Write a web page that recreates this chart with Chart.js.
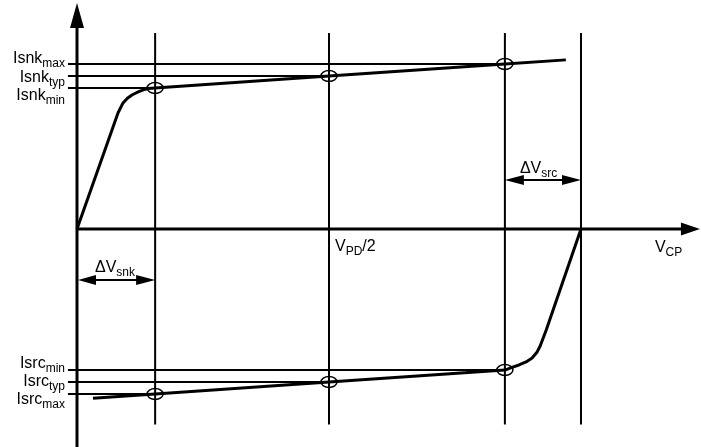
<!DOCTYPE html>
<html>
<head>
<meta charset="utf-8">
<script src="https://cdn.jsdelivr.net/npm/chart.js@4.4.0/dist/chart.umd.min.js"></script>
<style>
  body { margin: 0; background: #fff; }
  #wrap { width: 701px; height: 447px; }
</style>
</head>
<body>
<div id="wrap"><canvas id="cpChart" width="701" height="447"></canvas></div>
<script>
// Voltage axis runs 0 .. VPD (= 1), current is normalised so Isnk_max = 1
const markV = [0.155, 0.5, 0.849];            // dVsnk, VPD/2, VPD - dVsrc
const guideV = [0.155, 0.5, 0.849, 1.0];      // vertical guide lines
const guideSpan = [-1.185, 1.188];

const sinkNames = ["max", "typ", "min"];
const sinkLevels = [1.0, 0.927, 0.855];
const sinkEnds = [0.849, 0.5, 0.155];         // each level line stops at its marker

const srcNames = ["min", "typ", "max"];
const srcLevels = [-0.855, -0.927, -1.0];
const srcEnds = [0.849, 0.5, 0.155];

const levelStart = -0.018;

// sink current curve (upper) and source current curve (lower)
const sinkCurveX = [0, 0.0813, 0.0913, 0.100, 0.109, 0.118, 0.125, 0.133, 0.141, 0.155, 0.5, 0.849, 0.970];
const sinkCurveY = [0, 0.703, 0.764, 0.792, 0.812, 0.826, 0.836, 0.845, 0.851, 0.855, 0.927, 1.0, 1.025];
const srcCurveX = [0.0317, 0.155, 0.5, 0.849, 0.863, 0.877, 0.891, 0.903, 0.913, 0.919, 0.925, 0.931, 1.0];
const srcCurveY = [-1.026, -1.0, -0.927, -0.855, -0.839, -0.824, -0.806, -0.782, -0.745, -0.709, -0.661, -0.612, 0];

// markers on the curves
const sinkMarkY = [0.855, 0.927, 1.0];
const srcMarkY = [-1.0, -0.927, -0.855];

// delta V arrows
const dVsnkX = [0, 0.155];
const dVsnkY = -0.309;
const dVsrcX = [0.849, 1.0];
const dVsrcY = 0.297;

// axis extents
const yAxisEnds = [-1.33, 1.37];
const xAxisEnds = [0, 1.236];

const pts = (xs, ys) => xs.map((x, i) => ({ x: x, y: ys[i] }));
const lineSet = (data, width) => ({
  data: data,
  showLine: true,
  borderColor: "#000",
  borderWidth: width,
  pointRadius: 0,
  tension: 0,
  borderJoinStyle: "round",
  borderCapStyle: "butt",
});

const datasets = [];
// axes (stop short of the arrow tips)
datasets.push(lineSet([{ x: 0, y: yAxisEnds[0] }, { x: 0, y: yAxisEnds[1] - 0.13 }], 3));
datasets.push(lineSet([{ x: xAxisEnds[0], y: 0 }, { x: xAxisEnds[1] - 0.03, y: 0 }], 3));
// vertical guides
guideV.forEach((v) => {
  datasets.push(lineSet([{ x: v, y: guideSpan[0] }, { x: v, y: guideSpan[1] }], 2));
});
// level lines
sinkLevels.forEach((lv, i) => {
  datasets.push(lineSet([{ x: levelStart, y: lv }, { x: sinkEnds[i], y: lv }], 2));
});
srcLevels.forEach((lv, i) => {
  datasets.push(lineSet([{ x: levelStart, y: lv }, { x: srcEnds[i], y: lv }], 2));
});
// curves
datasets.push(lineSet(pts(sinkCurveX, sinkCurveY), 3));
datasets.push(lineSet(pts(srcCurveX, srcCurveY), 3));
// delta V arrow shafts
datasets.push(lineSet([{ x: dVsnkX[0] + 0.02, y: dVsnkY }, { x: dVsnkX[1] - 0.02, y: dVsnkY }], 2));
datasets.push(lineSet([{ x: dVsrcX[0] + 0.02, y: dVsrcY }, { x: dVsrcX[1] - 0.02, y: dVsrcY }], 2));

const BIG = "16px 'Liberation Sans', Arial, sans-serif";
const SMALL = "12px 'Liberation Sans', Arial, sans-serif";

// text with a subscript, returns the x where the text ends
function subText(ctx, main, sub, x, y, align) {
  ctx.font = BIG;
  const w1 = ctx.measureText(main).width;
  ctx.font = SMALL;
  const w2 = ctx.measureText(sub).width;
  const x0 = align === "right" ? x - w1 - w2 : x;
  ctx.textAlign = "left";
  ctx.textBaseline = "alphabetic";
  ctx.font = BIG;
  ctx.fillText(main, x0, y);
  ctx.font = SMALL;
  ctx.fillText(sub, x0 + w1, y + 4);
  return x0 + w1 + w2;
}

function arrowHead(ctx, tx, ty, dx, dy, len, half) {
  const bx = tx - dx * len, by = ty - dy * len;
  ctx.beginPath();
  ctx.moveTo(tx, ty);
  ctx.lineTo(bx - dy * half, by + dx * half);
  ctx.lineTo(bx + dy * half, by - dx * half);
  ctx.closePath();
  ctx.fill();
}

const decorPlugin = {
  id: "decor",
  afterDatasetsDraw(chart) {
    const ctx = chart.ctx;
    const xs = chart.scales.x, ys = chart.scales.y;
    const px = (v) => xs.getPixelForValue(v);
    const py = (v) => ys.getPixelForValue(v);
    ctx.save();
    ctx.fillStyle = "#000";
    ctx.strokeStyle = "#000";

    // axis arrows
    arrowHead(ctx, px(0), py(yAxisEnds[1]), 0, -1, 25, 7);
    arrowHead(ctx, px(xAxisEnds[1]), py(0), 1, 0, 19, 6.5);

    // delta V arrows
    arrowHead(ctx, px(dVsnkX[0]) + 1, py(dVsnkY), -1, 0, 18, 5);
    arrowHead(ctx, px(dVsnkX[1]), py(dVsnkY), 1, 0, 19, 5);
    arrowHead(ctx, px(dVsrcX[0]), py(dVsrcY), -1, 0, 19, 5);
    arrowHead(ctx, px(dVsrcX[1]), py(dVsrcY), 1, 0, 19, 5);

    // markers
    ctx.lineWidth = 1.5;
    markV.forEach((v, i) => {
      [sinkMarkY[i], srcMarkY[i]].forEach((c) => {
        ctx.beginPath();
        ctx.ellipse(px(v), py(c), 8, 5.5, 0, 0, Math.PI * 2);
        ctx.stroke();
      });
    });

    // level labels
    const lx = px(0) - 12;
    sinkNames.forEach((n, i) => {
      subText(ctx, "Isnk", n, lx, py(sinkLevels[0]) - 0.7 + i * 18.3, "right");
    });
    srcNames.forEach((n, i) => {
      subText(ctx, "Isrc", n, lx, py(srcLevels[0]) - 1.7 + i * 17.9, "right");
    });

    // voltage labels
    subText(ctx, "\u0394V", "snk", px(dVsnkX[0]) + 18, py(dVsnkY) - 8, "left");
    subText(ctx, "\u0394V", "src", px(dVsrcX[0]) + 15, py(dVsrcY) - 7, "left");
    const endX = subText(ctx, "V", "PD", px(markV[1]) + 6, py(0) + 22, "left");
    ctx.font = BIG;
    ctx.fillText("/2", endX, py(0) + 22);
    subText(ctx, "V", "CP", px(xAxisEnds[1]) - 45, py(0) + 23, "left");

    ctx.restore();
  },
};

const cpChart = new Chart(document.getElementById("cpChart").getContext("2d"), {
  type: "scatter",
  data: { datasets: datasets },
  options: {
    responsive: false,
    animation: false,
    layout: { padding: 0 },
    scales: {
      x: { type: "linear", min: -0.1528, max: 1.2381, display: false },
      y: { type: "linear", min: -1.3212, max: 1.3879, display: false },
    },
    plugins: {
      legend: { display: false },
      tooltip: { enabled: false },
    },
  },
  plugins: [decorPlugin],
});
</script>
</body>
</html>
